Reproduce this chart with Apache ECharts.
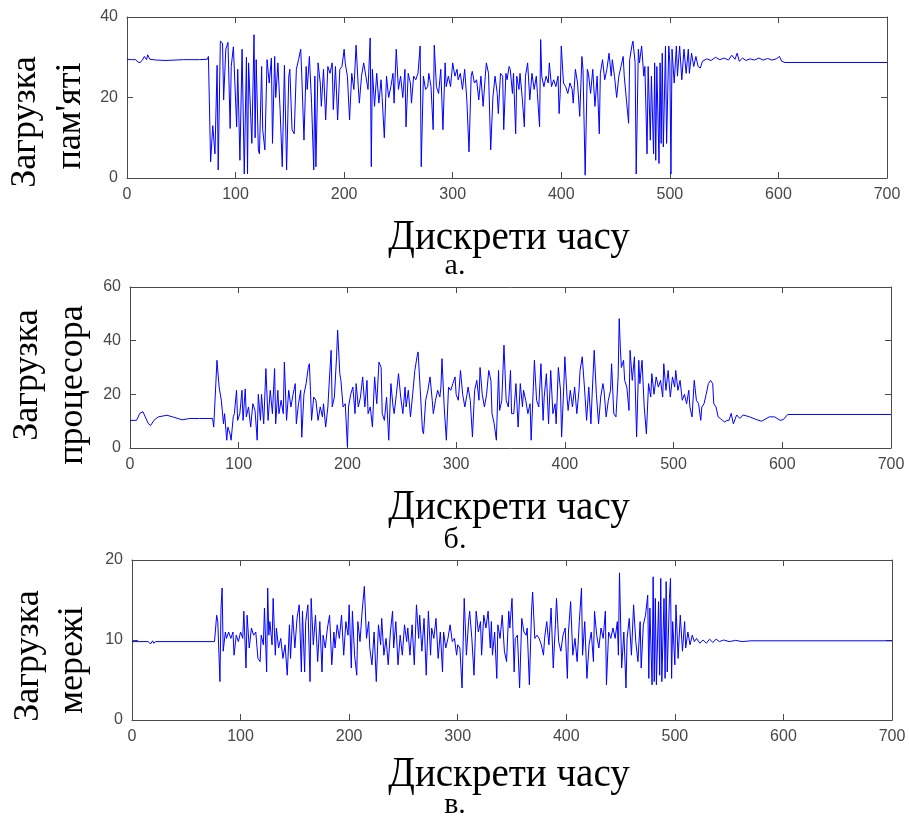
<!DOCTYPE html>
<html><head><meta charset="utf-8">
<script src="https://cdn.jsdelivr.net/npm/echarts@6/dist/echarts.min.js"></script>
<style>html,body{margin:0;padding:0;background:#fff}#c{width:909px;height:823px}</style>
</head><body><div id="c"></div>
<script>
// ---- data: [time step, value] ----
const xTicks = [0,100,200,300,400,500,600,700];
const memTicks = [0,20,40];
const cpuTicks = [0,20,40,60];
const netTicks = [0,10,20];
const xTitle = 'Дискрети часу';
const panelLetters = ['а.','б.','в.'];

const memory = [[0,29.5],[4,29.4],[8,29.4],[10,28.8],[12,28.7],[14,29.2],[15,29.5],[16,30.2],[18,29.4],[19,30.6],[21,29.5],[27,29.3],[36,29.2],[52,29.4],[67,29.4],[74,29.5],[75,30.2],
[77,4],[79,13],[81,6],[83,28],[84,2],[86,34],[88,33.5],[89,19.4],[91,32],[93,33.7],[95,12.3],[96,27.7],[98,32.6],[101,12.7],[102,27],[104,4.4],[106,32],[108,1],[110,30],[111,1],[112,28.6],[114,15],[115,8.6],[117,35.6],[118,10],[119,29.4],[121,7],[122,6],[124,27.7],[125,12],[127,7],[129,29.4],[131,23.6],[133,29.8],[134,8.6],[136,30.2],[137,20],[139,28.6],[141,17],[143,2.8],[145,28],[147,2],[149,25.3],[150,27],[152,12],[154,11],[156,27],[158,29.4],[160,32],[161,25.3],[163,9.4],[165,27.7],[166,22],[168,30.2],[170,18.6],[172,2],[173,25.3],[174,2.8],[176,28.6],[178,23.6],[179,17.8],[181,27],[183,14.4],[185,27.7],[187,26],[189,28.6],[190,17],[192,27.7],[194,14.4],[196,27],[198,27.7],[200,32],[201,28.6],[203,25.3],[205,14.4],[207,26],[209,22],[211,33],[213,22.7],[214,18.6],[216,25.3],[218,28.6],[220,25.3],[222,22],[224,34.8],[225,2.8],[226,27],[228,17.8],[230,26],[232,18.6],[234,24.4],[235,20],[237,10],[239,25.3],[241,20],[243,22.7],[245,26],[246,18.6],[248,32],[250,22],[252,25.3],[254,20],[256,27],[257,12.7],[259,26],[261,23.6],[262,18.6],[264,25.3],[266,24.4],[268,26],[270,32.8],[271,2.8],[273,25.3],[275,22],[277,22.7],[278,26],[280,22.7],[282,12],[283,33],[285,22.7],[287,21],[289,27],[291,12],[293,28.6],[294,22.7],[296,25.3],[298,22.7],[300,28.6],[302,25.3],[304,27],[305,24.4],[307,26],[309,22],[311,27],[313,19.4],[315,6.5],[317,25.3],[318,26.5],[320,23.6],[322,24.4],[324,19.4],[326,25.3],[328,17.8],[330,25.3],[331,28.6],[333,26],[335,7],[337,20],[339,25.3],[341,21],[342,16],[344,26],[346,25.3],[347,12],[349,26],[350,24.4],[352,27.7],[353,27],[355,21],[356,26],[358,11],[359,25.3],[361,22],[362,26],[364,20],[366,12.7],[367,25.3],[369,28.6],[371,19.4],[373,26],[375,22],[377,25.3],[378,21],[380,12.7],[381,34.4],[382,25.3],[384,22.7],[386,25.3],[388,23.6],[389,28.6],[391,22.7],[393,24.4],[395,22.7],[397,25.3],[398,16],[399,21],[400,32.8],[402,23.6],[404,22.7],[406,21],[408,23.6],[410,22],[411,18.6],[413,27],[415,23.6],[417,15.3],[419,30.2],[420,27],[422,0.7],[424,27],[425,26],[427,21],[429,27],[431,17.8],[433,25.3],[435,11],[436,26],[438,29.4],[440,24.4],[442,27],[444,31],[446,25.3],[447,29.4],[449,25.3],[451,20],[453,25.3],[455,27.7],[457,30.2],[458,25.3],[460,19.4],[462,13.6],[463,29.4],[465,32.8],[466,34],[468,28.6],[469,1],[471,32],[472,28.6],[474,32.8],[476,25.3],[477,27.7],[479,6],[480,27.7],[482,9.4],[483,25.3],[485,6],[486,28.6],[487,4.4],[488,27.7],[490,3.6],[491,28.6],[492,8.6],[493,31],[494,7.7],[496,32.8],[497,8.6],[499,32.8],[500,28.6],[501,1],[502,32],[504,23.6],[506,32.8],[507,25.3],[509,32.8],[511,24.4],[513,32],[515,26],[517,32],[518,26],[520,31],[522,27.7],[524,30.2],[526,27.7],[528,27.3],[530,29],[534,29.6],[538,29.2],[542,30],[546,29.4],[550,29.8],[554,29.3],[557,30.5],[560,29.5],[562,31],[564,29],[567,29.8],[570,29.2],[574,29.6],[578,29.3],[582,29.8],[586,29.3],[590,29.7],[594,29.3],[598,29.6],[601,30.2],[603,29],[606,28.7],[700,28.7]];

const cpu = [[0,10.3],[6,10.3],[9,12.9],[12,13.5],[14,11.6],[17,9],[19,8.4],[22,10.3],[26,11.6],[34,12.2],[40,11.5],[48,10.5],[55,11],[64,11],[76,11],[77,7.8],[80,32.7],[82,22.7],[84,17.8],[86,9],[87,12.8],[89,2.9],[90,7.8],[92,5.3],[93,2.9],[95,11.6],[96,12.8],[98,21.5],[99,10.3],[101,12.8],[103,21.5],[104,10.3],[106,22],[107,11.6],[109,15.3],[111,7.8],[113,16.5],[115,14],[117,2.9],[118,20],[120,10.3],[121,20],[123,9],[125,29.6],[127,10.3],[129,21.5],[131,12.8],[133,29.6],[134,9],[136,21.5],[137,12.8],[139,17.8],[141,12.8],[142,32],[144,10.3],[146,21.5],[148,15.3],[150,20],[152,24],[153,9],[155,16.5],[157,21.5],[158,4],[160,20],[162,24],[164,30],[165,31.4],[166,21.5],[167,10.3],[169,19],[171,17.8],[173,10.3],[175,15.3],[177,11.6],[178,16.5],[180,7.8],[182,15.3],[183,22.7],[185,36.4],[186,15.3],[188,19],[190,34],[191,43.9],[193,27.7],[194,25.2],[196,15.3],[198,16.5],[200,0.4],[201,15.3],[203,20],[205,22.7],[207,12.8],[208,24],[210,15.3],[212,19],[214,26.5],[216,15.3],[218,25.2],[219,12.8],[221,15.3],[223,7.8],[225,26.5],[227,16.5],[229,32],[231,30],[232,12.8],[234,10.3],[236,19],[238,2.9],[240,24],[242,15.3],[243,12.8],[245,20],[247,27.7],[249,19],[251,12.8],[253,22.7],[254,15.3],[256,21.5],[258,11.6],[260,20],[262,28.9],[264,34],[265,35.8],[267,21.5],[269,6.6],[270,5.3],[272,17.8],[274,21.5],[276,26.5],[278,17.8],[279,12.8],[281,17.8],[283,21.5],[285,19],[286,22.7],[287,33.3],[289,15.3],[291,2.9],[293,22.7],[295,21.5],[297,24],[299,26.5],[300,20],[302,17.8],[304,28.9],[306,20],[308,15.3],[310,20],[311,22.7],[313,17.8],[315,4.1],[317,21.5],[319,25.2],[321,17.8],[322,30],[324,20],[326,15.3],[328,20],[330,28.9],[332,25.2],[333,12.8],[335,9],[337,2.9],[339,28.9],[340,14],[342,17.8],[344,38.3],[346,17.8],[348,15.3],[350,28.9],[351,12.8],[353,12.8],[355,24],[357,7.8],[359,24],[361,15.3],[362,21.5],[364,17.8],[366,12.8],[368,16.5],[369,2.9],[371,22.7],[372,32.7],[374,17.8],[376,15.3],[378,31.4],[380,10.3],[381,19],[383,27.7],[385,9],[387,28.9],[389,12.8],[391,16.5],[392,9],[394,30],[396,21.5],[397,4.1],[399,22.7],[400,34],[402,19],[403,14],[405,21.5],[407,15.3],[409,22.7],[411,12.8],[413,21.5],[414,28.9],[416,34],[418,22.7],[420,10.3],[422,22.7],[424,9],[425,19],[427,36.4],[429,20],[431,9],[433,19],[435,24],[436,21.5],[438,11.6],[440,17.8],[442,21.5],[443,31.4],[445,12.8],[447,11.6],[449,26.5],[450,48.2],[451,37.6],[452,30],[454,32.7],[455,25.2],[457,22.7],[459,14],[460,36.4],[462,25.2],[464,34],[466,4.1],[468,32.7],[469,24],[471,32.7],[473,15.3],[475,5.3],[477,24],[479,19],[480,27.7],[482,20],[484,26.5],[486,22.7],[488,25.2],[490,19],[491,31.4],[493,21.5],[495,28.9],[497,19],[499,26.5],[501,22.7],[502,28.9],[504,21.5],[506,25.2],[508,17.8],[510,20],[512,16.5],[514,21.5],[515,15.3],[517,11.6],[519,25.2],[521,17.8],[523,16.5],[525,10.3],[526,15.3],[528,16.5],[530,20],[532,24],[534,25.2],[536,24],[537,16.5],[539,15.3],[541,11.6],[543,11],[545,10.3],[547,9.7],[549,10.3],[551,10.3],[553,12.9],[555,9],[558,12.3],[561,11],[564,12.3],[570,11.6],[576,10.6],[581,10],[588,11.6],[593,11.6],[598,10.3],[601,10.6],[605,12.5],[700,12.5]];

const network = [[0,9.8],[15,9.8],[17,9.5],[19,9.9],[20,9.6],[22,9.8],[76,9.8],[78,13.1],[79,12.3],[81,4.8],[82,14],[83,16.5],[84,8.6],[86,11],[87,10.2],[89,11],[91,10.2],[93,11],[94,8.1],[96,10.6],[98,9.8],[100,11],[102,10.2],[103,13.6],[105,6.5],[106,13.1],[108,9],[110,11.5],[112,10.6],[114,11],[116,7.7],[118,7.3],[119,10.6],[121,9.4],[122,14],[124,6],[125,16.5],[126,10.6],[127,12.3],[129,9.4],[130,15.2],[132,8.1],[133,11.5],[135,9],[137,10.2],[139,7.7],[141,9.4],[143,5.6],[145,11.9],[146,7.7],[148,13.1],[150,9],[152,12.7],[154,14.4],[156,6],[157,13.6],[159,6],[160,12.3],[162,14.4],[164,4.8],[165,15.2],[167,9.4],[169,13.1],[171,7.3],[173,12.3],[175,6],[176,10.6],[178,9],[180,11.5],[182,13.1],[184,6.9],[186,11],[187,9],[189,11.9],[191,10.2],[193,13.1],[195,8.1],[197,12.3],[199,10.6],[200,14.4],[202,6.5],[203,13.6],[205,8.1],[207,5.6],[208,12.3],[210,9.8],[212,13.6],[214,16.7],[216,10.2],[218,12.3],[219,9],[221,6.9],[223,11],[225,4.8],[227,11.9],[229,9.4],[230,12.7],[232,8.1],[234,10.2],[236,6.9],[238,11],[240,13.6],[241,9],[243,12.3],[245,6.9],[247,10.6],[249,8.1],[251,11.9],[253,9.8],[254,11.5],[256,8.1],[258,11.9],[260,6.9],[262,14.4],[264,10.2],[265,13.1],[267,8.6],[269,12.7],[271,5.6],[273,13.6],[275,8.1],[276,11.5],[278,10.2],[280,12.7],[282,7.7],[284,11],[286,6],[287,11],[289,9],[291,10.2],[293,11.9],[295,9.8],[297,10.2],[299,8.1],[300,9.4],[302,9],[304,4],[306,15.2],[308,8.1],[310,12.3],[311,13.6],[313,10.2],[315,5.6],[317,13.6],[319,11],[321,12.3],[322,8.1],[324,13.1],[326,11.5],[328,13.6],[330,9],[331,12.3],[332,8.1],[334,11],[336,5.2],[337,11.9],[339,10.2],[341,13.1],[343,8.6],[345,7.3],[347,13.6],[348,11.5],[350,15.2],[352,6],[353,10.2],[355,10.6],[357,4],[359,12.7],[361,11],[363,10.6],[364,11.5],[366,4.4],[368,13.6],[369,16],[371,10.2],[373,10.6],[375,10.2],[377,9.4],[379,8.1],[380,10.2],[382,12.3],[384,9.4],[386,14],[388,6.5],[390,11.9],[391,15.2],[393,9.8],[395,8.6],[397,10.6],[399,11.5],[401,5.2],[402,11],[404,14.8],[406,8.1],[408,10.2],[410,7.3],[412,12.3],[414,16.5],[415,8.1],[417,12.3],[419,5.2],[421,9.4],[423,11],[425,7.3],[426,13.6],[428,10.6],[430,9],[432,11.5],[434,10.2],[436,13.6],[437,4.4],[439,11],[441,10.2],[443,11.5],[445,10.2],[447,12.3],[448,8.1],[449,18.4],[451,6.5],[453,11],[455,4],[456,10.2],[458,12.7],[460,8.1],[462,14.4],[464,9.8],[466,7.3],[468,12.3],[469,6.5],[471,11.9],[473,13.1],[475,15.6],[476,5.2],[477,14],[479,4.4],[480,17.9],[481,4.8],[482,15.2],[483,4.4],[485,14.8],[486,5.6],[487,17.7],[488,4.8],[490,15.2],[491,5.2],[492,17.3],[493,6],[495,15.2],[496,17.7],[497,5.2],[498,12.3],[500,6.9],[501,14.4],[503,7.7],[505,13.1],[507,8.6],[509,12.3],[510,9],[512,11],[514,9.4],[516,10.6],[518,9.8],[520,10.2],[523,9.6],[526,10],[529,9.6],[532,10.1],[535,9.7],[538,10.1],[541,9.8],[545,10],[550,9.8],[556,9.95],[562,9.8],[570,9.9],[700,9.9]];

const yLabels = [['Загрузка',"пам'яті"],['Загрузка','процесора'],['Загрузка','мережі']];

// ---- layout ----
const grids = [
  {left:127, top:17, width:760, height:161},
  {left:130, top:287, width:761, height:161},
  {left:132, top:560, width:760, height:160}
];
const yTickSets = [memTicks, cpuTicks, netTicks];
const seriesData = [memory, cpu, network];
const axisCol = '#4a4a4a';
const labelFont = {fontFamily:'"Liberation Sans", Arial, sans-serif', fontSize:16, color:'#474747'};

const xAxes = [], yAxes = [], series = [];
grids.forEach((g, i) => {
  const yt = yTickSets[i];
  const yMin = yt[0], yMax = yt[yt.length-1], yInt = yt[1]-yt[0];
  const common = {type:'value', splitLine:{show:false},
    axisLine:{show:true, onZero:false, lineStyle:{color:axisCol, width:1}},
    axisTick:{show:true, inside:true, length:6, lineStyle:{color:axisCol}}};
  xAxes.push(Object.assign({}, common, {gridIndex:i, position:'bottom', min:xTicks[0], max:xTicks[xTicks.length-1], interval:xTicks[1]-xTicks[0],
    axisLabel:Object.assign({margin:9}, labelFont)}));
  xAxes.push(Object.assign({}, common, {gridIndex:i, position:'top', min:xTicks[0], max:xTicks[xTicks.length-1], interval:xTicks[1]-xTicks[0],
    axisLabel:{show:false}}));
  yAxes.push(Object.assign({}, common, {gridIndex:i, position:'left', min:yMin, max:yMax, interval:yInt,
    axisLabel:Object.assign({margin:9}, labelFont)}));
  yAxes.push(Object.assign({}, common, {gridIndex:i, position:'right', min:yMin, max:yMax, interval:yInt,
    axisLabel:{show:false}}));
  series.push({type:'line', xAxisIndex:i*2, yAxisIndex:i*2, data:seriesData[i], showSymbol:false, symbol:'none',
    lineStyle:{color:'#0000ff', width:1}, animation:false, silent:true});
});

const serif = '"Liberation Serif", "Times New Roman", serif';
const graphics = [];
const yLabelPos = [
  [[26,122],[71,116]],
  [[28,375],[73,385]],
  [[29,656],[73,660]]
];
const titleY = [238, 508, 775];
const letterY = [266, 540, 805];
yLabels.forEach((pair, i) => {
  pair.forEach((t, j) => {
    graphics.push({type:'text', x:yLabelPos[i][j][0], y:yLabelPos[i][j][1], rotation:Math.PI/2,
      style:{text:t, fontFamily:serif, fontSize:36, fill:'#000', align:'center', verticalAlign:'middle', textAlign:'center', textVerticalAlign:'middle'}});
  });
  graphics.push({type:'text', x:509, y:titleY[i], scaleY:1.1,
    style:{text:xTitle, fontFamily:serif, fontSize:39, fill:'#000', align:'center', verticalAlign:'middle', textAlign:'center', textVerticalAlign:'middle'}});
  graphics.push({type:'text', x:455, y:letterY[i],
    style:{text:panelLetters[i], fontFamily:serif, fontSize:30, fill:'#000', align:'center', verticalAlign:'middle', textAlign:'center', textVerticalAlign:'middle'}});
});

const chart = echarts.init(document.getElementById('c'));
chart.setOption({
  backgroundColor:'#fff',
  animation:false,
  grid: grids,
  xAxis: xAxes,
  yAxis: yAxes,
  series: series,
  graphic: graphics
});
</script></body></html>
